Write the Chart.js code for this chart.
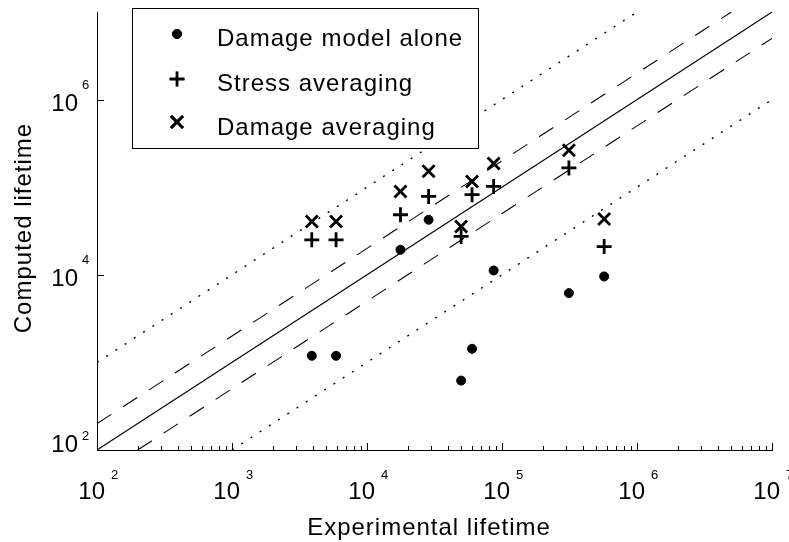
<!DOCTYPE html>
<html>
<head>
<meta charset="utf-8">
<script src="https://cdn.jsdelivr.net/npm/chart.js@4.4.0/dist/chart.umd.min.js"></script>
<style>
body { margin: 0; background: #fff; }
</style>
</head>
<body>
<canvas id="grafico" width="789" height="542"></canvas>
<script>
const experimental = [3900, 5900, 17700, 28600, 49800, 60000, 86700, 313000, 571000];
const damageAlone = [1190, 1190, 19300, 42500, 620, 1430, 11200, 6180, 9570];
const stressAvg = [25100, 25100, 48500, 78500, 27400, 82100, 102000, 166000, 21000];
const damageAvg = [40600, 40600, 89500, 152000, 35600, 116000, 186000, 264000, 43400];
const seriesNames = ['Damage model alone', 'Stress averaging', 'Damage averaging'];

const xTicks = [1e2, 1e3, 1e4, 1e5, 1e6, 1e7];
const yTicks = [1e2, 1e4, 1e6];

// reference lines, end points in data units
const lineSolid = [[1e2, 1e2], [1e7, 1e7]];
const lineDashUp = [[1e2, 2e2], [5e6, 1e7]];
const lineDashDown = [[2e2, 1e2], [1e7, 5e6]];
const lineDotUp = [[1e2, 1e3], [1e6, 1e7]];
const lineDotDown = [[1e3, 1e2], [1e7, 1e6]];

const FONT = '"Liberation Sans", Arial, sans-serif';

function pontos(ys) {
    return experimental.map((v, i) => ({ x: v, y: ys[i] }));
}
function reta(p, dash, w) {
    return {
        type: 'line',
        data: p.map(q => ({ x: q[0], y: q[1] })),
        borderColor: '#000',
        borderWidth: w,
        borderDash: dash,
        pointRadius: 0,
        fill: false
    };
}

const marcadores = [
    { pointStyle: 'circle', radius: 4.5, borderWidth: 1, backgroundColor: '#000', borderColor: '#000' },
    { pointStyle: 'cross', radius: 7.5, borderWidth: 2.8, backgroundColor: '#000', borderColor: '#000' },
    { pointStyle: 'crossRot', radius: 8.5, borderWidth: 2.8, backgroundColor: '#000', borderColor: '#000' }
];

const eixos = {
    id: 'eixos',
    afterDatasetsDraw(chart) {
        const ctx = chart.ctx;
        const sx = chart.scales.x, sy = chart.scales.y;
        const a = chart.chartArea;
        ctx.save();
        ctx.strokeStyle = '#000';
        ctx.fillStyle = '#000';
        ctx.lineWidth = 1;

        // ticks pointing inside
        ctx.beginPath();
        xTicks.forEach((v, d) => {
            const px = Math.round(sx.getPixelForValue(v)) + 0.5;
            ctx.moveTo(px, a.bottom);
            ctx.lineTo(px, a.bottom - 7);
            if (d < xTicks.length - 1) {
                for (let m = 2; m < 10; m++) {
                    const pm = Math.round(sx.getPixelForValue(v * m)) + 0.5;
                    ctx.moveTo(pm, a.bottom);
                    ctx.lineTo(pm, a.bottom - 4);
                }
            }
        });
        yTicks.forEach(v => {
            const py = Math.round(sy.getPixelForValue(v)) + 0.5;
            ctx.moveTo(a.left, py);
            ctx.lineTo(a.left + 7, py);
        });
        ctx.stroke();

        // tick labels
        xTicks.forEach(v => {
            const px = sx.getPixelForValue(v);
            ctx.font = '24px ' + FONT;
            ctx.textAlign = 'right';
            ctx.textBaseline = 'alphabetic';
            ctx.fillText('10', px + 8, 499);
            ctx.font = '13px ' + FONT;
            ctx.textAlign = 'left';
            ctx.fillText(String(Math.round(Math.log10(v))), px + 14, 479);
        });
        yTicks.forEach((v, i) => {
            const py = sy.getPixelForValue(v);
            const base = i === 0 ? py + 2 : py + 11;
            const sup = i === 0 ? py - 10 : py - 11;
            ctx.font = '24px ' + FONT;
            ctx.textAlign = 'right';
            ctx.fillText('10', 78, base);
            ctx.font = '13px ' + FONT;
            ctx.textAlign = 'left';
            ctx.fillText(String(Math.round(Math.log10(v))), 82, sup);
        });

        // axis titles
        ctx.font = '24px ' + FONT;
        ctx.letterSpacing = '1px';
        ctx.textAlign = 'center';
        ctx.fillText('Experimental lifetime', 429, 535);
        ctx.save();
        ctx.translate(31, 228);
        ctx.rotate(-Math.PI / 2);
        ctx.fillText('Computed lifetime', 0, 0);
        ctx.restore();

        // legend
        ctx.fillStyle = '#fff';
        ctx.fillRect(132.5, 8.5, 346, 140);
        ctx.strokeRect(132.5, 8.5, 346, 140);
        const rows = [34, 79, 122];
        const bases = [46, 90.5, 135];
        chart.data.datasets.slice(0, 3).forEach((ds, i) => {
            Chart.helpers.drawPoint(ctx, {
                pointStyle: marcadores[i].pointStyle,
                radius: marcadores[i].radius,
                borderWidth: marcadores[i].borderWidth,
                rotation: 0
            }, 177, rows[i]);
            ctx.fillStyle = '#000';
            ctx.strokeStyle = '#000';
            ctx.lineWidth = marcadores[i].borderWidth;
            ctx.fill();
            ctx.stroke();
            ctx.fillStyle = '#000';
            ctx.textAlign = 'left';
            ctx.fillText(ds.label, 217, bases[i]);
        });
        ctx.restore();
    }
};

const series = [damageAlone, stressAvg, damageAvg].map((ys, i) => ({
    type: 'scatter',
    label: seriesNames[i],
    data: pontos(ys),
    pointStyle: marcadores[i].pointStyle,
    pointRadius: marcadores[i].radius,
    pointBorderWidth: marcadores[i].borderWidth,
    pointBackgroundColor: '#000',
    pointBorderColor: '#000',
    borderColor: '#000',
    backgroundColor: '#000'
}));

const escala = (pos) => ({
    type: 'logarithmic',
    position: pos,
    min: 1e2,
    max: 1e7,
    grid: { display: false, drawTicks: false },
    border: { display: true, color: '#000', width: 1 },
    ticks: { display: false }
});

new Chart(document.getElementById('grafico').getContext('2d'), {
    data: {
        datasets: series.concat([
            reta(lineSolid, [], 1.1),
            reta(lineDashUp, [17, 14], 1.1),
            reta(lineDashDown, [17, 14], 1.1),
            reta(lineDotUp, [2, 9], 1.4),
            reta(lineDotDown, [2, 9], 1.4)
        ])
    },
    options: {
        responsive: false,
        animation: false,
        layout: { padding: { left: 97, right: 17, top: 12, bottom: 92 } },
        plugins: { legend: { display: false }, tooltip: { enabled: false } },
        scales: { x: escala('bottom'), y: escala('left') }
    },
    plugins: [eixos]
});
</script>
</body>
</html>
